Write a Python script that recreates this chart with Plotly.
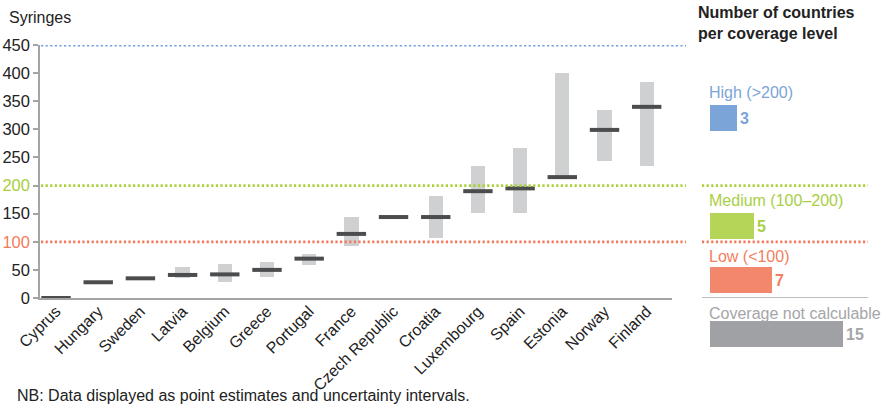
import plotly.graph_objects as go

# Point estimates and uncertainty intervals (syringes per person who injects drugs)
countries = ["Cyprus", "Hungary", "Sweden", "Latvia", "Belgium", "Greece", "Portugal",
             "France", "Czech Republic", "Croatia", "Luxembourg", "Spain", "Estonia",
             "Norway", "Finland"]
median = [0, 28, 35, 41, 42, 50, 70, 114, 144, 144, 190, 195, 215, 299, 340]
low = [None, None, None, 35, 29, 38, 58, 93, None, 107, 152, 152, 213, 244, 234]
high = [None, None, None, 55, 60, 64, 79, 144, None, 181, 235, 266, 400, 335, 385]

# Coverage thresholds
thresholds = [450, 200, 100]
y_ticks = [0, 50, 100, 150, 200, 250, 300, 350, 400, 450]

# Countries per coverage level
levels = ["High (>200)", "Medium (100–200)", "Low (<100)", "Coverage not calculable"]
level_counts = [3, 5, 7, 15]

W, H = 883, 404
FONT = "Liberation Sans, Arial, Helvetica, sans-serif"

BLUE, GREEN, RED = "#6f9fe0", "#a9d13a", "#f3785c"
BOX = {"High (>200)": "#7ba4d8", "Medium (100–200)": "#b5d558",
       "Low (<100)": "#f3876b", "Coverage not calculable": "#a0a1a4"}
TXT = {"High (>200)": "#7ba4d8", "Medium (100–200)": "#a8cf45",
       "Low (<100)": "#f37e5f", "Coverage not calculable": "#a5a6a8"}
line_colors = {450: BLUE, 200: GREEN, 100: RED}
DOT = dict(width=2.8, dash="2.2px,2.4px")


def px_x(p):
    return p / W


def px_y(p):
    return (H - p) / H


fig = go.Figure()

# uncertainty intervals
fig.add_trace(go.Bar(
    x=countries,
    y=[(h - l) if h is not None else None for h, l in zip(high, low)],
    base=low,
    width=0.34,
    marker=dict(color="#cfd0d1", line=dict(width=0)),
    hoverinfo="skip",
    showlegend=False,
))

# point estimates
fig.add_trace(go.Scatter(
    x=countries, y=median, mode="markers",
    marker=dict(symbol="line-ew", size=21, line=dict(width=4, color="#4b4c4e")),
    cliponaxis=False, showlegend=False,
))

# coverage-level panel
panel_rows = [levels[0], " ", levels[1], levels[2], levels[3]]
fig.add_trace(go.Bar(
    x=level_counts, y=levels, orientation="h",
    xaxis="x2", yaxis="y2", width=0.47,
    marker=dict(color=[BOX[l] for l in levels], line=dict(width=0)),
    texttemplate="<b>%{x}</b>", textposition="outside",
    textfont=dict(size=16, color=[TXT[l] for l in levels], family=FONT),
    cliponaxis=False, showlegend=False,
))

shapes = []
for t in thresholds:
    shapes.append(dict(type="line", xref="paper", yref="y",
                       x0=px_x(41), x1=px_x(686), y0=t, y1=t,
                       line=dict(color=line_colors[t], **DOT)))
for t in [200, 100]:
    shapes.append(dict(type="line", xref="paper", yref="y",
                       x0=px_x(702), x1=px_x(868), y0=t, y1=t,
                       line=dict(color=line_colors[t], **DOT)))
shapes.append(dict(type="line", xref="paper", yref="y",
                   x0=px_x(702), x1=px_x(868), y0=0, y1=0,
                   line=dict(color="#a8a9ab", width=1.5)))

annotations = [
    dict(text="Syringes", xref="paper", yref="paper", x=px_x(7), y=px_y(17),
         xanchor="left", yanchor="middle", showarrow=False,
         font=dict(size=16, color="#222222", family=FONT)),
    dict(text="<b>Number of countries<br>per coverage level</b>", xref="paper", yref="paper",
         x=px_x(696), y=px_y(2), xanchor="left", yanchor="top", showarrow=False, align="left",
         font=dict(size=16, color="#222222", family=FONT)),
    dict(text="NB: Data displayed as point estimates and uncertainty intervals.",
         xref="paper", yref="paper", x=px_x(15), y=px_y(395),
         xanchor="left", yanchor="middle", showarrow=False,
         font=dict(size=16, color="#222222", family=FONT)),
]
label_shift = {levels[0]: 25, levels[1]: 26, levels[2]: 24, levels[3]: 21}
for l in levels:
    annotations.append(dict(text=l, xref="x2", yref="y2", x=0, y=l, xshift=-3,
                            yshift=label_shift[l], xanchor="left", yanchor="middle",
                            showarrow=False, font=dict(size=16, color=TXT[l], family=FONT)))

tick_text = []
for v in y_ticks:
    if v == 200:
        tick_text.append(f'<span style="color:#a7cd3d">{v}</span>')
    elif v == 100:
        tick_text.append(f'<span style="color:#f37b5c">{v}</span>')
    else:
        tick_text.append(str(v))

fig.update_layout(
    width=W, height=H,
    margin=dict(l=0, r=0, t=0, b=0),
    paper_bgcolor="white", plot_bgcolor="white",
    font=dict(family=FONT, size=16, color="#222222"),
    bargap=0,
    xaxis=dict(domain=[px_x(40), px_x(672)], range=[-0.38, 14.6], type="category",
               showgrid=False, zeroline=False, showline=True, linecolor="#a3a4a6", linewidth=1.5,
               ticks="", tickangle=-45, tickfont=dict(size=16, color="#222222"),
               ticklabelstandoff=-4,
               automargin=False, fixedrange=True),
    yaxis=dict(domain=[px_y(298), px_y(45)], range=[0, 450],
               tickvals=y_ticks, ticktext=tick_text,
               showgrid=False, zeroline=False, showline=True, linecolor="#a3a4a6", linewidth=1.5,
               ticks="outside", ticklen=5, tickcolor="#a3a4a6", tickwidth=1.5,
               tickfont=dict(size=16.5, color="#222222"), automargin=False, fixedrange=True),
    xaxis2=dict(domain=[px_x(710), px_x(878)], range=[0, 19], anchor="y2",
                visible=False, fixedrange=True),
    yaxis2=dict(domain=[px_y(361), px_y(91)], type="category",
                categoryarray=panel_rows, categoryorder="array", range=[4.5, -0.5],
                anchor="x2", visible=False, fixedrange=True),
    shapes=shapes,
    annotations=annotations,
)

fig.write_html("out.html")
